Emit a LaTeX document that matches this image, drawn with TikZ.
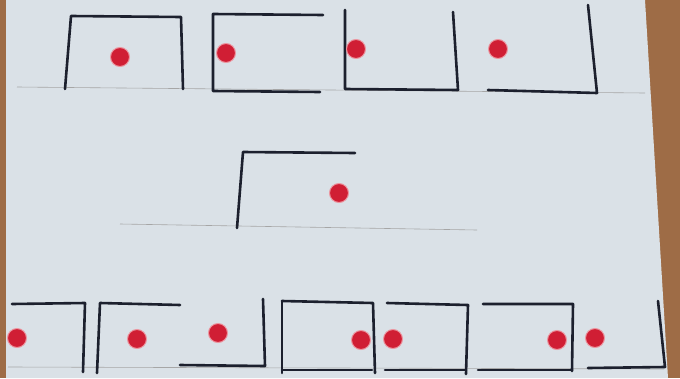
\documentclass[tikz,border=0pt]{standalone}
\usepackage{tikz}

\definecolor{paper}{RGB}{218,225,231}
\definecolor{wood}{RGB}{158,108,70}
\definecolor{ink}{RGB}{28,32,46}
\definecolor{marker}{RGB}{208,30,52}
\definecolor{halo}{RGB}{236,150,160}

\begin{document}
\begin{tikzpicture}[x=1pt, y=-1pt,
    ink/.style={draw=ink, line width=2.6pt, line cap=round, line join=round},
    guide/.style={draw=gray!70, line width=0.6pt},
    dot/.style={fill=marker, draw=halo, line width=1pt}]
    \useasboundingbox (0,0) rectangle (680,378);

    % Wood and paper
    \fill[wood] (0,0) rectangle (680,378);
    \fill[paper] (6,0) -- (645,0) -- (668,378) -- (6,378) -- cycle;

    % Faint ruled lines
    \draw[guide] (17,87) -- (645,93);
    \draw[guide] (120,224) -- (477,230);
    \draw[guide] (8,367) -- (664,369);

    % Top row (left to right)
    \draw[ink] (65,89) -- (71,16) -- (181,17) -- (183,89);
    \draw[ink] (323,15) -- (213,14) -- (213,91) -- (320,92);
    \draw[ink] (345,10) -- (345,89) -- (458,90) -- (453,12);
    \draw[ink] (488,90) -- (597,93) -- (588,5);

    % Middle
    \draw[ink] (237,228) -- (243,152) -- (355,153);

    % Bottom row (left to right)
    \draw[ink] (12,304) -- (85,303) -- (83,372);
    \draw[ink] (97,373) -- (100,303) -- (180,305);
    \draw[ink] (180,365) -- (265,366) -- (263,299);
    \draw[ink] (282,301) -- (373,303) -- (375,373);
    \draw[ink] (282,301) -- (282,373);
    \draw[ink] (282,370) -- (372,370);
    \draw[ink] (387,303) -- (468,305) -- (466,374);
    \draw[ink] (385,370) -- (466,370);
    \draw[ink] (483,304) -- (573,304) -- (572,371);
    \draw[ink] (478,370) -- (572,370);
    \draw[ink] (588,368) -- (665,367) -- (658,301);

    % Red dots
    \foreach \x/\y in {120/57, 226/53, 356/49, 498/49, 339/193,
                       17/338, 137/339, 218/333, 361/340, 393/339,
                       557/340, 595/338}
        \draw[dot] (\x,\y) circle (9.5);
\end{tikzpicture}
\end{document}
